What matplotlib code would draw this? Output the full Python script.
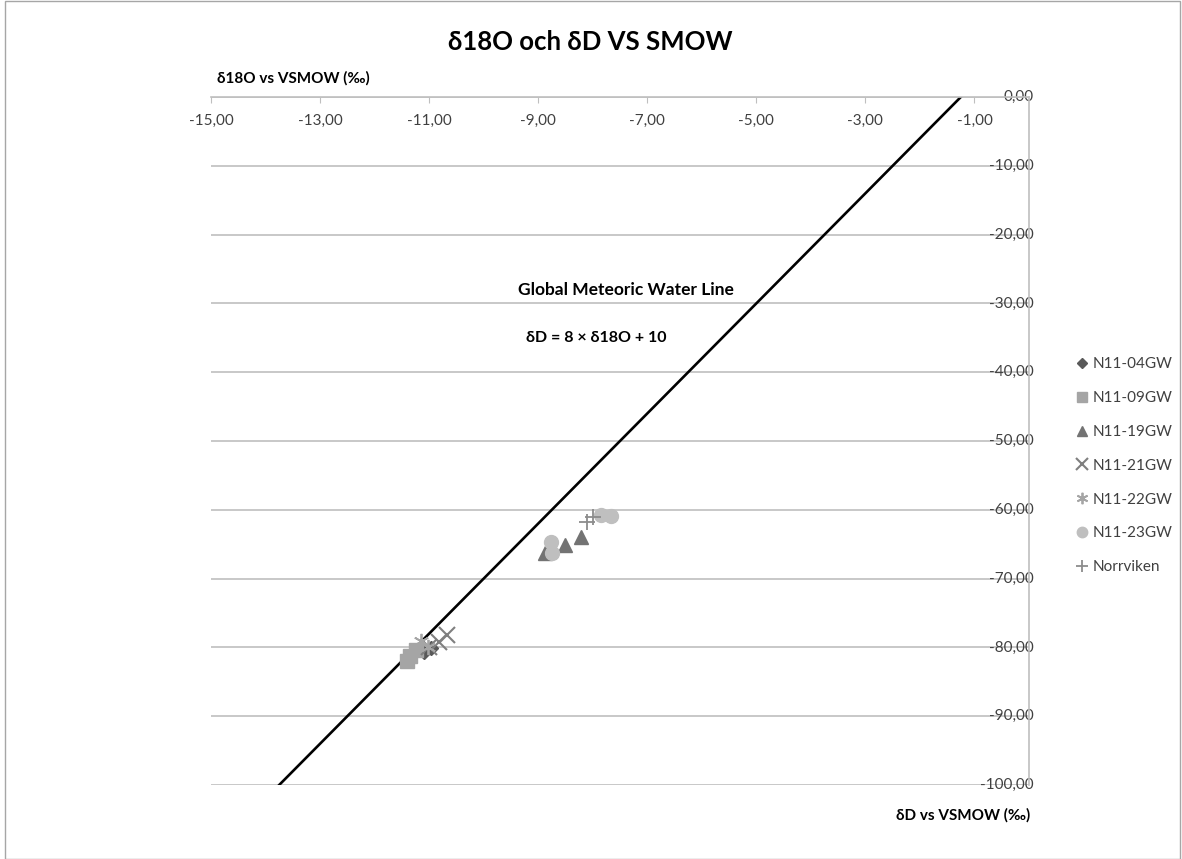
import matplotlib
matplotlib.use("Agg")
import matplotlib.pyplot as plt
from matplotlib.patches import Rectangle

plt.rcParams['font.family'] = ['Lato', 'DejaVu Sans']

# series (d18O, dD)
n04_x = [-10.96, -11.09]
n04_y = [-80.1, -80.7]
n09_x = [-11.35, -11.25, -11.40]
n09_y = [-81.3, -80.4, -82.0]
n19_x = [-8.88, -8.50, -8.22]
n19_y = [-66.3, -65.1, -64.0]
n21_x = [-10.67, -10.82, -11.00]
n21_y = [-78.2, -79.2, -79.9]
n22_x = [-11.15, -11.02]
n22_y = [-79.0, -80.0]
n23_x = [-8.77, -8.75, -7.84, -7.66]
n23_y = [-64.7, -66.3, -60.8, -60.9]
norr_x = [-8.11, -7.99]
norr_y = [-61.8, -61.0]

gmwl_x = [-13.75, -1.25]
gmwl_y = [-100.0, 0.0]

xticks = [-15, -13, -11, -9, -7, -5, -3, -1]
yticks = [0, -10, -20, -30, -40, -50, -60, -70, -80, -90, -100]


def fmt(v):
    return f"{v:.2f}".replace(".", ",")


fig = plt.figure(figsize=(11.82, 8.59), dpi=100)
ax = fig.add_axes([211 / 1182, 1 - 785 / 859, 818 / 1182, 688 / 859])

grid_c = '#bfbfbf'
txt_c = '#404040'

ax.set_xlim(-15, 0)
ax.set_ylim(-100, 0)
ax.set_yticks(yticks)
ax.yaxis.grid(True, color=grid_c, lw=1.2)
ax.set_axisbelow(True)

for s in ['left', 'bottom']:
    ax.spines[s].set_visible(False)
for s in ['top', 'right']:
    ax.spines[s].set_color(grid_c)
    ax.spines[s].set_linewidth(1.2)

ax.set_xticks(xticks)
ax.set_xticklabels([fmt(v) for v in xticks])
ax.tick_params(axis='x', bottom=False, labelbottom=False, top=True, labeltop=True,
               direction='in', length=4, color=grid_c, pad=-22,
               labelsize=11, labelcolor=txt_c)

ax.set_yticklabels([fmt(v) for v in yticks])
ax.tick_params(axis='y', left=False, labelleft=False, right=False, labelright=True,
               pad=0, labelsize=11, labelcolor=txt_c)
for lab in ax.get_yticklabels():
    lab.set_horizontalalignment('right')
    lab.set_verticalalignment('center')

ax.plot(gmwl_x, gmwl_y, color='black', lw=1.9, zorder=2)

ax.plot(n04_x, n04_y, 'D', color='#595959', ms=7, ls='none', label='N11-04GW', zorder=3)
ax.plot(n09_x, n09_y, 's', color='#a5a5a5', ms=10.5, ls='none', label='N11-09GW', zorder=3)
ax.plot(n19_x, n19_y, '^', color='#737373', ms=10.5, ls='none', label='N11-19GW', zorder=3)
ax.plot(n21_x, n21_y, 'x', color='#7f7f7f', ms=11, mew=1.5, ls='none', label='N11-21GW', zorder=3)
ax.plot(n22_x, n22_y, marker=(6, 2, 0), color='#a5a5a5', ms=11, mew=1.3, ls='none',
        label='N11-22GW', zorder=3)
ax.plot(n23_x, n23_y, 'o', color='#bfbfbf', ms=10, ls='none', label='N11-23GW', zorder=3)
ax.plot(norr_x, norr_y, '+', color='#8c8c8c', ms=11, mew=1.3, ls='none', label='Norrviken', zorder=3)

ax.text(-7.4, -28.0, 'Global Meteoric Water Line', ha='center', va='center',
        fontsize=12.5, fontweight='bold', color='black')
ax.text(-7.93, -35.0, 'δD = 8 × δ18O + 10', ha='center', va='center',
        fontsize=11.5, fontweight='bold', color='black')

leg = ax.legend(loc='center left', bbox_to_anchor=(1.04, 0.464), frameon=False,
                fontsize=11, labelspacing=1.3, handlelength=0.8, handletextpad=0.3,
                markerscale=0.75, labelcolor=txt_c)

fig.text(590 / 1182, 1 - 42 / 859, 'δ18O och δD VS SMOW', ha='center', va='center',
         fontsize=18.5, fontweight='bold', color='black')
fig.text(217 / 1182, 1 - 78 / 859, 'δ18O vs VSMOW (‰)', ha='left', va='center',
         fontsize=11, fontweight='bold', color='black')
fig.text(1030 / 1182, 1 - 815 / 859, 'δD vs VSMOW (‰)', ha='right', va='center',
         fontsize=11, fontweight='bold', color='black')

fig.patches.append(Rectangle((0.004, 0.0), 0.994, 0.999, transform=fig.transFigure,
                             fill=False, edgecolor='#a6a6a6', lw=1))

fig.savefig('out.png', dpi=100)
